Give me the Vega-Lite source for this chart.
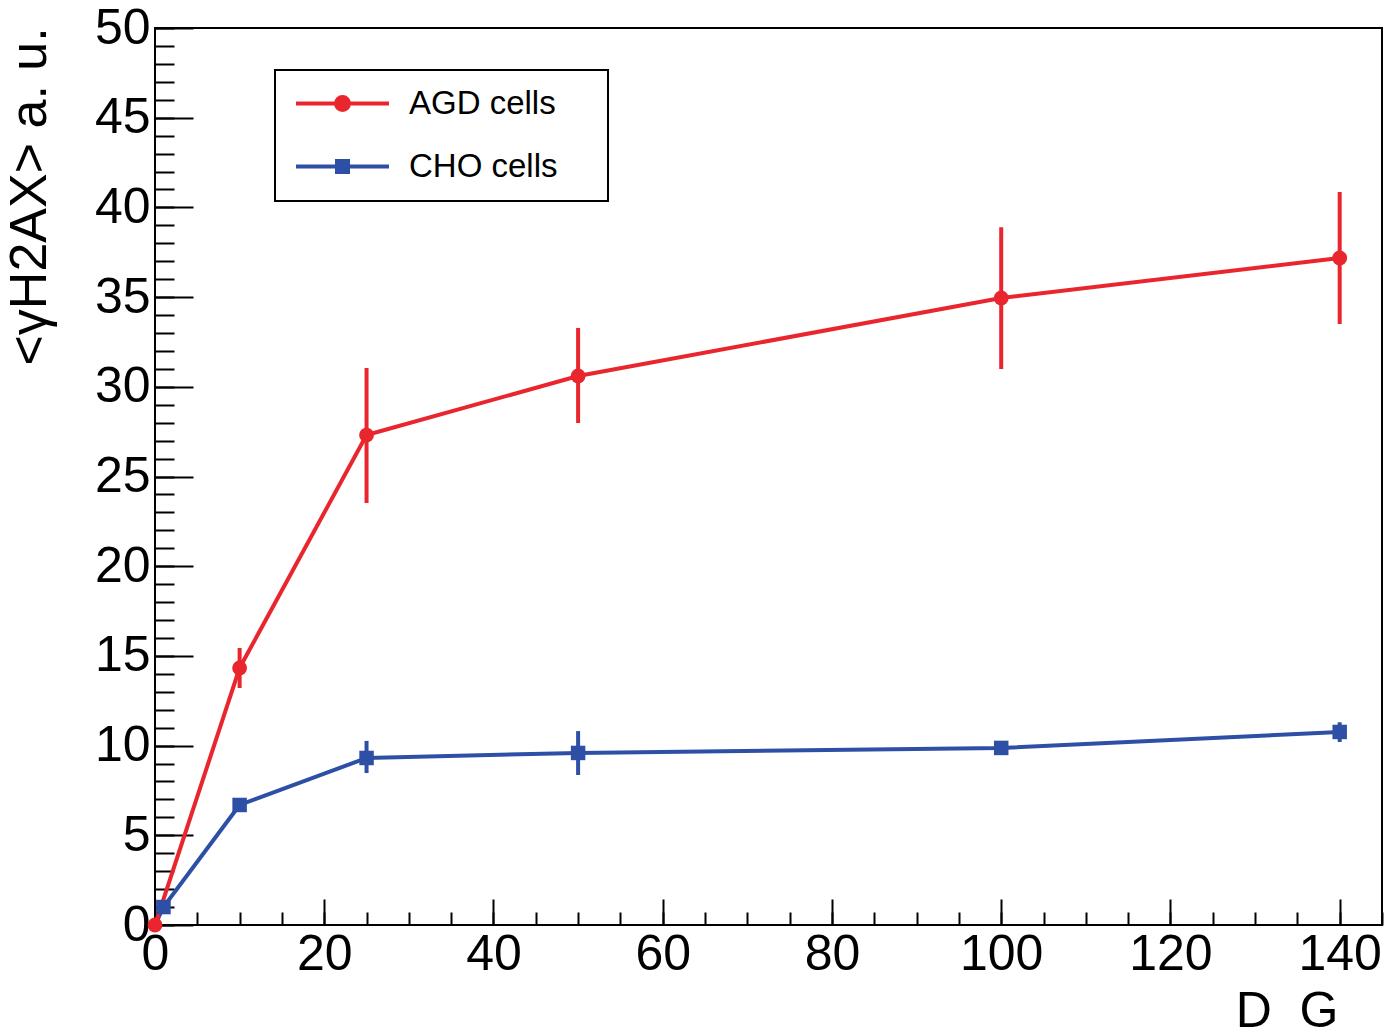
{
  "$schema": "https://vega.github.io/schema/vega-lite/v6.json",
  "width": 1227,
  "height": 897,
  "autosize": {"type": "none"},
  "padding": {"left": 155, "top": 28, "right": 11, "bottom": 109},
  "background": "white",
  "config": {
    "view": {"stroke": "black", "strokeWidth": 2},
    "font": "Liberation Sans",
    "axis": {
      "domain": false, "grid": false,
      "labelFont": "Liberation Sans", "titleFont": "Liberation Sans",
      "labelColor": "black", "titleColor": "black",
      "tickColor": "black", "tickWidth": 2,
      "labelOverlap": false, "labelFlush": false
    }
  },
  "data": {"values": [
    {"series": "AGD cells", "dose": 0, "value": 0, "lo": null, "hi": null},
    {"series": "AGD cells", "dose": 10, "value": 14.33, "lo": 13.21, "hi": 15.44},
    {"series": "AGD cells", "dose": 25, "value": 27.31, "lo": 23.52, "hi": 31.05},
    {"series": "AGD cells", "dose": 50, "value": 30.6, "lo": 27.98, "hi": 33.28},
    {"series": "AGD cells", "dose": 100, "value": 34.95, "lo": 30.99, "hi": 38.9},
    {"series": "AGD cells", "dose": 140, "value": 37.18, "lo": 33.5, "hi": 40.86},
    {"series": "CHO cells", "dose": 0, "value": 0, "lo": null, "hi": null},
    {"series": "CHO cells", "dose": 1, "value": 1.0, "lo": null, "hi": null},
    {"series": "CHO cells", "dose": 10, "value": 6.69, "lo": null, "hi": null},
    {"series": "CHO cells", "dose": 25, "value": 9.31, "lo": 8.47, "hi": 10.26},
    {"series": "CHO cells", "dose": 50, "value": 9.59, "lo": 8.36, "hi": 10.81},
    {"series": "CHO cells", "dose": 100, "value": 9.87, "lo": null, "hi": null},
    {"series": "CHO cells", "dose": 140, "value": 10.76, "lo": 10.2, "hi": 11.3}
  ]},
  "resolve": {"axis": {"x": "independent", "y": "independent"}},
  "layer": [
    {
      "transform": [{"filter": "datum.series === 'CHO cells'"}],
      "mark": {"type": "line", "strokeWidth": 4},
      "encoding": {
        "x": {"field": "dose", "type": "quantitative",
          "scale": {"domain": [0, 145], "nice": false, "zero": false},
          "axis": {"orient": "bottom", "values": [0, 20, 40, 60, 80, 100, 120, 140], "ticks": false,
            "labelFontSize": 50, "labelPadding": 4,
            "title": "D\u00a0\u00a0G", "titleFontSize": 50, "titleFontWeight": "normal",
            "titleAlign": "right", "titleAnchor": "end", "titleX": 1183, "titleY": 101, "titleBaseline": "alphabetic"}},
        "y": {"field": "value", "type": "quantitative",
          "scale": {"domain": [0, 50], "nice": false},
          "axis": {"orient": "left", "values": [0, 5, 10, 15, 20, 25, 30, 35, 40, 45, 50], "ticks": false,
            "labelFontSize": 50, "labelPadding": 5,
            "title": "<γH2AX> a. u.", "titleFontSize": 52, "titleFontWeight": "normal",
            "titleAngle": -90, "titleAlign": "left", "titleBaseline": "alphabetic", "titleX": -110, "titleY": 337}},
        "color": {"field": "series", "type": "nominal",
          "scale": {"domain": ["AGD cells", "CHO cells"], "range": ["#e9262e", "#2d4fa5"]},
          "legend": {
            "title": null, "orient": "none", "legendX": 120, "legendY": 42, "direction": "vertical",
            "fillColor": "white", "strokeColor": "black", "padding": 17,
            "labelFontSize": 33, "labelFont": "Liberation Sans", "labelColor": "black", "labelLimit": 600,
            "symbolSize": 400, "symbolStrokeWidth": 4, "symbolOffset": 34, "labelOffset": 50, "rowPadding": 29,
            "labelExpr": "datum.label + '\u00a0\u2800'",
            "encode": {
              "legend": {"update": {"strokeWidth": {"value": 2}}},
              "symbols": {"update": {
                "shape": {"signal": "datum.value === 'AGD cells' ? 'M-4.65,0H4.65M-0.65,0A0.65,0.65,0,1,0,0.65,0A0.65,0.65,0,1,0,-0.65,0Z' : 'M-4.65,0H4.65M-0.55,-0.55H0.55V0.55H-0.55Z'"},
                "fill": {"signal": "datum.value === 'AGD cells' ? '#e9262e' : '#2d4fa5'"},
                "stroke": {"signal": "datum.value === 'AGD cells' ? '#e9262e' : '#2d4fa5'"},
                "strokeWidth": {"value": 4},
                "size": {"value": 400},
                "opacity": {"value": 1}
              }}
            }
          }}
      }
    },
    {
      "transform": [{"filter": "datum.series === 'AGD cells'"}],
      "mark": {"type": "line", "strokeWidth": 4},
      "encoding": {
        "x": {"field": "dose", "type": "quantitative",
          "axis": {"orient": "bottom", "values": [0, 20, 40, 60, 80, 100, 120, 140], "labels": false, "tickSize": -26, "title": null}},
        "y": {"field": "value", "type": "quantitative",
          "axis": {"orient": "left", "values": [0, 5, 10, 15, 20, 25, 30, 35, 40, 45, 50], "labels": false, "tickSize": -38, "title": null}},
        "color": {"field": "series", "type": "nominal", "legend": null}
      }
    },
    {
      "transform": [{"filter": "datum.lo != null"}],
      "mark": {"type": "rule", "strokeWidth": 4},
      "encoding": {
        "x": {"field": "dose", "type": "quantitative",
          "axis": {"orient": "bottom", "values": [0, 5, 10, 15, 20, 25, 30, 35, 40, 45, 50, 55, 60, 65, 70, 75, 80, 85, 90, 95, 100, 105, 110, 115, 120, 125, 130, 135, 140, 145], "labels": false, "tickSize": -13, "title": null}},
        "y": {"field": "lo", "type": "quantitative",
          "axis": {"orient": "left", "values": [0, 1, 2, 3, 4, 5, 6, 7, 8, 9, 10, 11, 12, 13, 14, 15, 16, 17, 18, 19, 20, 21, 22, 23, 24, 25, 26, 27, 28, 29, 30, 31, 32, 33, 34, 35, 36, 37, 38, 39, 40, 41, 42, 43, 44, 45, 46, 47, 48, 49, 50], "labels": false, "tickSize": -19, "title": null}},
        "y2": {"field": "hi"},
        "color": {"field": "series", "type": "nominal", "legend": null}
      }
    },
    {
      "transform": [{"filter": "datum.series === 'AGD cells'"}],
      "mark": {"type": "point", "shape": "circle", "filled": true, "size": 220, "opacity": 1},
      "encoding": {
        "x": {"field": "dose", "type": "quantitative", "axis": null},
        "y": {"field": "value", "type": "quantitative", "axis": null},
        "color": {"field": "series", "type": "nominal", "legend": null}
      }
    },
    {
      "transform": [{"filter": "datum.series === 'CHO cells' && datum.dose > 0"}],
      "mark": {"type": "point", "shape": "square", "filled": true, "size": 210, "opacity": 1},
      "encoding": {
        "x": {"field": "dose", "type": "quantitative", "axis": null},
        "y": {"field": "value", "type": "quantitative", "axis": null},
        "color": {"field": "series", "type": "nominal", "legend": null}
      }
    }
  ]
}
